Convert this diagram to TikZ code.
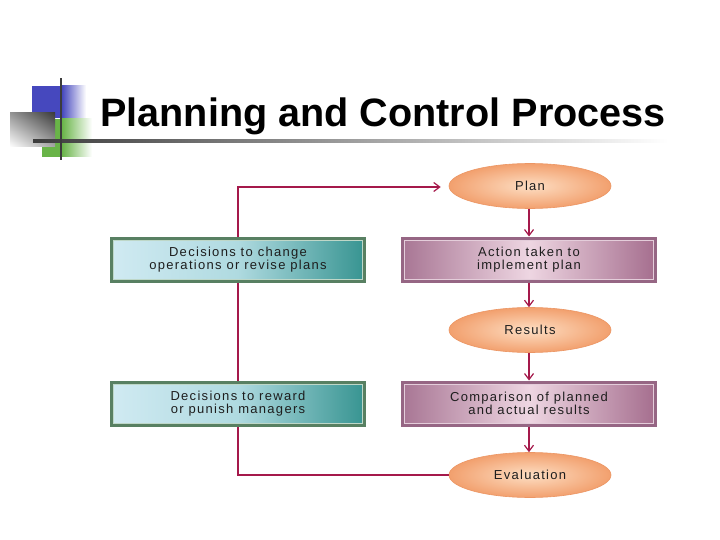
\documentclass[tikz,border=0pt]{standalone}
\usepackage{fontspec}
\setmainfont{Liberation Sans}
\usetikzlibrary{shapes.geometric,arrows.meta,shadings}
\definecolor{lnred}{RGB}{165,25,75}
\definecolor{ellA}{RGB}{253,222,195}
\definecolor{ellB}{RGB}{242,160,110}
\definecolor{ellE}{RGB}{236,150,100}
\definecolor{grA}{RGB}{208,234,242}
\definecolor{grM}{RGB}{175,218,224}
\definecolor{grB}{RGB}{55,148,145}
\definecolor{grE}{RGB}{88,128,98}
\definecolor{grI}{RGB}{190,215,200}
\definecolor{puA}{RGB}{168,118,148}
\definecolor{puM}{RGB}{238,214,226}
\definecolor{puB}{RGB}{165,110,142}
\definecolor{puE}{RGB}{150,102,132}
\definecolor{puI}{RGB}{228,205,218}
\definecolor{txt}{RGB}{30,30,30}
\definecolor{decoblue}{RGB}{70,72,190}
\definecolor{decogreen}{RGB}{105,180,72}
\definecolor{decogray}{RGB}{60,60,60}
\definecolor{decomid}{RGB}{150,150,150}
\definecolor{decomid2}{RGB}{165,165,165}
\tikzset{
  lbl/.style={font=\fontsize{13}{12.5}\selectfont\addfontfeature{LetterSpace=10}, text=txt, align=center},
  oval/.style={ellipse, lbl, minimum width=162pt, minimum height=45pt, inner sep=0pt,
    inner color=ellA, outer color=ellB, draw=ellE, line width=0.6pt},
  greenbox/.style={rectangle, lbl, minimum width=253pt, minimum height=43pt, inner sep=0pt,
    left color=grA, right color=grB, middle color=grM, draw=grE, line width=3pt},
  purplebox/.style={rectangle, lbl, minimum width=253pt, minimum height=43pt, inner sep=0pt,
    left color=puA, right color=puB, middle color=puM, draw=puE, line width=3pt},
  flow/.style={draw=lnred, line width=1.2pt},
  arr/.style={flow, -{Straight Barb[length=6pt,width=9pt]}},
}
\begin{document}
\begin{tikzpicture}[x=1pt,y=-1pt]
\useasboundingbox (0,0) rectangle (720,540);
\fill[white] (0,0) rectangle (720,540);
% title decoration
\fill[decoblue] (32,86) rectangle (62,118);
\shade[left color=decoblue, right color=white] (61.9,86) rectangle (86,118);
\fill[decogreen] (42,119) rectangle (62,157);
\shade[left color=decogreen, right color=white] (61.9,119) rectangle (92,157);
\shade[upper right=decogray, upper left=decomid, lower right=decomid2, lower left=white] (10,113) rectangle (55,147);
\shade[left color=decogray, right color=white] (33,140) rectangle (668,142.2);
\fill[decogray] (60,78) rectangle (62.2,160);
\node[anchor=base west, inner sep=0pt, font=\fontsize{39.6}{45}\selectfont\bfseries] (title) at (100,127) {Planning and Control Process};
% ovals
\node[oval] (plan) at (530,186) {Plan};
\node[oval] (res) at (530,330) {Results};
\node[oval] (eval) at (530,475) {Evaluation};
% loop line
\coordinate (lb) at (238,475);
\coordinate (lt) at (238,187);
\draw[arr, shorten >=8pt] (eval.west) -- (lb) -- (lt) -- (lt -| plan.west);
% boxes
\node[purplebox] (act) at (529,259.5) {Action taken to\\implement plan};
\node[purplebox] (cmp) at (529,403.5) {Comparison of planned\\and actual results};
\node[greenbox] (chg) at (238,259.5) {Decisions to change\\operations or revise plans};
\node[greenbox] (rew) at (238,403.5) {Decisions to reward\\or punish managers};
\foreach \b/\c in {act/puI, cmp/puI, chg/grI, rew/grI}{
  \draw[\c, line width=0.8pt] ([shift={(3.5pt,-3.5pt)}]\b.north west) rectangle ([shift={(-3.5pt,3.5pt)}]\b.south east);
}
% arrows
\draw[arr] (plan.south -| act.north) -- (act.north);
\draw[arr] (act.south) -- (act.south |- res.north);
\draw[arr] (res.south -| cmp.north) -- (cmp.north);
\draw[arr] (cmp.south) -- (cmp.south |- eval.north);
\end{tikzpicture}
\end{document}
